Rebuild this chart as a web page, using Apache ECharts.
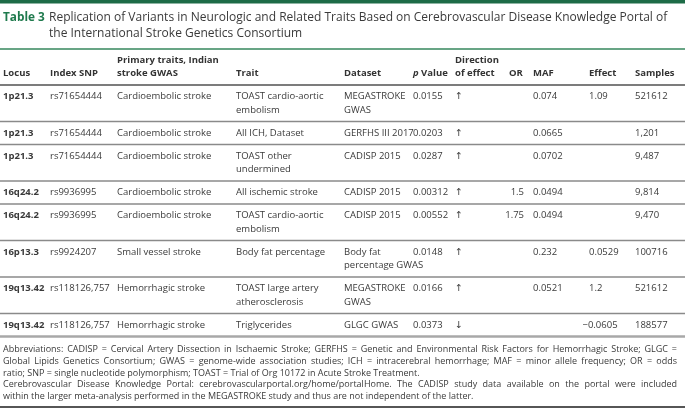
<!DOCTYPE html>
<html><head><meta charset="utf-8">
<script src="https://cdn.jsdelivr.net/npm/echarts@6/dist/echarts.min.js"></script>
<style>html,body{margin:0;padding:0;background:#fff}#c{width:685px;height:411px}</style>
</head><body><div id="c"></div>
<script>
// ---- data ----
const headers = ['Locus', 'Index SNP', 'Primary traits, Indian\nstroke GWAS', 'Trait', 'Dataset', 'p Value', 'Direction\nof effect', 'OR', 'MAF', 'Effect', 'Samples'];
const locus = ['1p21.3', '1p21.3', '1p21.3', '16q24.2', '16q24.2', '16p13.3', '19q13.42', '19q13.42'];
const indexSnp = ['rs71654444', 'rs71654444', 'rs71654444', 'rs9936995', 'rs9936995', 'rs9924207', 'rs118126,757', 'rs118126,757'];
const primaryTraits = ['Cardioembolic stroke', 'Cardioembolic stroke', 'Cardioembolic stroke', 'Cardioembolic stroke', 'Cardioembolic stroke', 'Small vessel stroke', 'Hemorrhagic stroke', 'Hemorrhagic stroke'];
const traits = ['TOAST cardio-aortic\nembolism', 'All ICH, Dataset', 'TOAST other\nundermined', 'All ischemic stroke', 'TOAST cardio-aortic\nembolism', 'Body fat percentage', 'TOAST large artery\natherosclerosis', 'Triglycerides'];
const datasets = ['MEGASTROKE\nGWAS', 'GERFHS III 2017', 'CADISP 2015', 'CADISP 2015', 'CADISP 2015', 'Body fat\npercentage GWAS', 'MEGASTROKE\nGWAS', 'GLGC GWAS'];
const pValues = ['0.0155', '0.0203', '0.0287', '0.00312', '0.00552', '0.0148', '0.0166', '0.0373'];
const directions = ['↑', '↑', '↑', '↑', '↑', '↑', '↑', '↓'];
const oddsRatios = ['', '', '', '1.5', '1.75', '', '', ''];
const mafs = ['0.074', '0.0665', '0.0702', '0.0494', '0.0494', '0.232', '0.0521', ''];
const effects = ['1.09', '', '', '', '', '0.0529', '1.2', '−0.0605'];
const samples = ['521612', '1,201', '9,487', '9,814', '9,470', '100716', '521612', '188577'];
const titleLabel = 'Table 3';
const titleLines = ['Replication of Variants in Neurologic and Related Traits Based on Cerebrovascular Disease Knowledge Portal of', 'the International Stroke Genetics Consortium'];
const footnotes = [
  'Abbreviations: CADISP = Cervical Artery Dissection in Ischaemic Stroke; GERFHS = Genetic and Environmental Risk Factors for Hemorrhagic Stroke; GLGC =',
  'Global Lipids Genetics Consortium; GWAS = genome-wide association studies; ICH = intracerebral hemorrhage; MAF = minor allele frequency; OR = odds',
  'ratio; SNP = single nucleotide polymorphism; TOAST = Trial of Org 10172 in Acute Stroke Treatment.',
  'Cerebrovascular Disease Knowledge Portal: cerebrovascularportal.org/home/portalHome. The CADISP study data available on the portal were included',
  'within the larger meta-analysis performed in the MEGASTROKE study and thus are not independent of the latter.'
];
const footJustify = [true, true, false, true, false];

// ---- layout ----
const W = 685, H = 411;
const FONT = '"Open Sans", "DejaVu Sans", sans-serif';
const TEXT = '#3a3a3a';
const columns = [locus, indexSnp, primaryTraits, traits, datasets, pValues, directions, oddsRatios, mafs, effects, samples];
const colX = [3, 50, 117, 236, 344, 413, 455, 509, 533, 589, 635];
const colRightAlign = [false, false, false, false, false, false, false, true, false, false, false];
const orRight = 524;
const headerRuleY = 85;
const lineH = 13.5, padY = 4.75, fs = 9.5;
const footFs = 9, footLeft = 3, footRight = 677;

const nRows = locus.length;
const rowTop = [];
let y = headerRuleY;
for (let r = 0; r < nRows; r++) {
  rowTop.push(y);
  let lines = 1;
  columns.forEach(c => { lines = Math.max(lines, c[r].split('\n').length); });
  y += padY * 2 + lines * lineH;
}
const tableBottom = y;

const cells = [];
headers.forEach((h, c) => {
  const nl = h.split('\n').length;
  cells.push({ value: [colX[c], headerRuleY - padY - nl * lineH], text: h, bold: true, header: true, right: false });
});
columns.forEach((col, c) => {
  col.forEach((t, r) => {
    if (!t) return;
    let x = colX[c];
    if (colRightAlign[c]) x = orRight;
    if (t[0] === '−') x -= 6.5;
    cells.push({ value: [x, rowTop[r] + padY], text: t, bold: c === 0, header: false, right: colRightAlign[c] });
  });
});

const footTop = tableBottom + 7;
const footLH = 11.8;
const bottomRuleY = footTop + footnotes.length * footLH + 4.5;
const rules = [];
rules.push({ value: [headerRuleY, 2, 0] });
for (let r = 1; r < nRows; r++) rules.push({ value: [rowTop[r], 1.5, 1] });
rules.push({ value: [tableBottom, 2.5, 2] });
rules.push({ value: [bottomRuleY, 1.6, 3] });
const ruleColors = ['#7c7c7c', '#8a8a8a', '#a8a8a8', '#1e1e1e'];

// footnote words (justified lines are laid out word by word)
const measureCtx = document.createElement('canvas').getContext('2d');
measureCtx.font = footFs + 'px "Open Sans"';
const footWords = [];
footnotes.forEach((line, i) => {
  const cy = footTop + i * footLH + footLH / 2;
  if (!footJustify[i]) { footWords.push({ value: [footLeft, cy], text: line }); return; }
  const words = line.split(' ');
  const widths = words.map(w => measureCtx.measureText(w).width);
  const total = widths.reduce((a, b) => a + b, 0);
  const gap = (footRight - footLeft - total) / (words.length - 1);
  let x = footLeft;
  words.forEach((w, k) => { footWords.push({ value: [x, cy], text: w }); x += widths[k] + gap; });
});

const chart = echarts.init(document.getElementById('c'), null, { renderer: 'canvas' });
chart.setOption({
  animation: false,
  backgroundColor: '#fff',
  grid: { left: 0, right: 0, top: 0, bottom: 0 },
  xAxis: { type: 'value', min: 0, max: W, show: false },
  yAxis: { type: 'value', min: 0, max: H, inverse: true, show: false },
  graphic: [
    { type: 'rect', left: 0, top: 0, shape: { width: W, height: 3.5 }, style: { fill: '#1d6b47' } },
    { type: 'rect', left: 0, top: 48, shape: { width: W, height: 2 }, style: { fill: '#68a585' } }
  ],
  series: [
    {
      type: 'custom',
      coordinateSystem: 'cartesian2d',
      data: rules,
      renderItem: function (params, api) {
        const p0 = api.coord([0, api.value(0)]);
        const p1 = api.coord([W, api.value(0)]);
        return { type: 'line', shape: { x1: p0[0], y1: p0[1], x2: p1[0], y2: p1[1] }, style: { stroke: ruleColors[api.value(2)], lineWidth: api.value(1) } };
      }
    },
    {
      type: 'custom',
      coordinateSystem: 'cartesian2d',
      data: cells,
      renderItem: function (params, api) {
        const d = cells[params.dataIndex];
        const p = api.coord([api.value(0), api.value(1)]);
        const style = { text: d.text, x: p[0], y: p[1], fill: d.header ? '#333' : TEXT, fontFamily: FONT, fontSize: fs, fontWeight: d.bold ? 'bold' : 'normal', lineHeight: lineH, align: d.right ? 'right' : 'left', verticalAlign: 'top' };
        if (d.header && d.text === 'p Value') {
          style.text = '{i|p}{n| Value}';
          style.rich = { i: { fontStyle: 'italic', fontWeight: 'bold', fontFamily: FONT, fontSize: fs, fill: '#333' }, n: { fontWeight: 'bold', fontFamily: FONT, fontSize: fs, fill: '#333' } };
        }
        return { type: 'text', style: style };
      }
    },
    {
      type: 'custom',
      coordinateSystem: 'cartesian2d',
      data: [[3, 17.5, 0], [49, 17.5, 1], [49, 33.5, 2]],
      renderItem: function (params, api) {
        const k = api.value(2);
        const p = api.coord([api.value(0), api.value(1)]);
        let style;
        if (k === 0) style = { text: titleLabel, fill: '#1f7a4d', fontFamily: FONT, fontSize: 11.8, fontWeight: 'bold' };
        else style = { text: titleLines[k - 1], fill: '#3a3a3a', fontFamily: FONT, fontSize: 12 };
        style.x = p[0]; style.y = p[1]; style.verticalAlign = 'middle'; style.align = 'left';
        return { type: 'text', style: style };
      }
    },
    {
      type: 'custom',
      coordinateSystem: 'cartesian2d',
      data: footWords,
      renderItem: function (params, api) {
        const d = footWords[params.dataIndex];
        const p = api.coord([api.value(0), api.value(1)]);
        return { type: 'text', style: { text: d.text, x: p[0], y: p[1], fill: '#3a3a3a', fontFamily: FONT, fontSize: footFs, verticalAlign: 'middle', align: 'left' } };
      }
    }
  ]
});
</script></body></html>
